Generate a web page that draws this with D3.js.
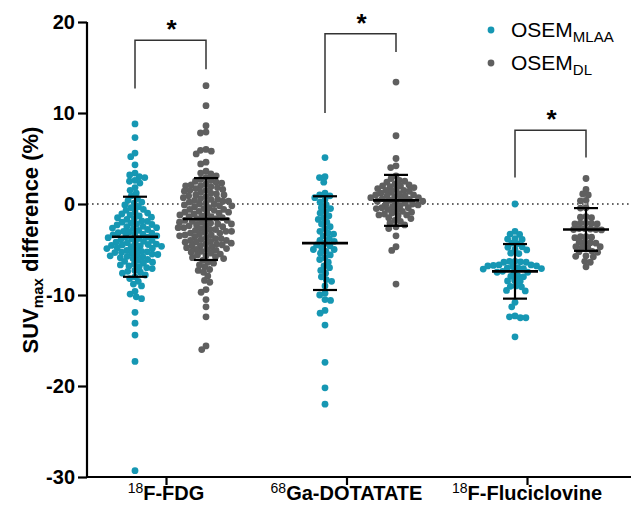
<!DOCTYPE html>
<html>
<head>
<meta charset="utf-8">
<script src="https://cdn.jsdelivr.net/npm/d3@7"></script>
<style>
  body { margin: 0; background: #fff; }
  text { font-family: "Liberation Sans", Arial, sans-serif; }
</style>
</head>
<body>
<svg id="chart" width="631" height="509"></svg>
<script>
// tracers / groups
const categories = ["F-FDG", "Ga-DOTATATE", "F-Fluciclovine"];
const isotopes = ["18", "68", "18"];
const seriesNames = ["MLAA", "DL"];
const colors = ["#1697b3", "#5f5f5f"];
const yTicks = [-30, -20, -10, 0, 10, 20];

// SUVmax difference (%) per lesion
const fdgMLAA = [8.8, 7.3, 5.6, 5.2, 4.3, 3.4, 3.2, 3.0, 2.9, 2.6, 2.5, 2.3, 1.8, 1.5, 1.2, 0.9,
  0.6, 0.4, 0.2, 0.1, -0.1, -0.3, -0.4, -0.6, -0.7, -0.9, -1.0,
  -1.1, -1.2, -1.3, -1.45, -1.5, -1.6, -1.7, -1.85, -1.9, -2.0,
  -2.1, -2.2, -2.25, -2.3, -2.45, -2.5, -2.6, -2.65, -2.7, -2.8, -2.9, -3.0,
  -3.1, -3.15, -3.2, -3.3, -3.35, -3.4, -3.5, -3.6, -3.65, -3.7, -3.8, -3.85, -3.9, -4.0,
  -4.1, -4.2, -4.25, -4.3, -4.4, -4.45, -4.5, -4.55, -4.6, -4.65, -4.7, -4.8, -4.85, -4.9, -5.0,
  -5.1, -5.2, -5.25, -5.3, -5.35, -5.4, -5.5, -5.55, -5.6, -5.7, -5.75, -5.8, -5.9, -6.0,
  -6.1, -6.2, -6.3, -6.4, -6.5, -6.6, -6.7, -6.8, -6.9, -7.0,
  -7.1, -7.3, -7.4, -7.5, -7.6, -7.8, -8.0,
  -8.2, -8.5, -8.8, -9.0, -9.6, -9.9, -10.2, -10.4,
  -11.9, -13.1, -14.4, -17.3, -29.3];

const fdgDL = [13.0, 10.8, 8.6, 7.9, 7.8, 6.0, 5.9, 5.8, 5.5, 4.6, 4.4, 3.6, 3.4, 3.3, 3.1,
  2.9, 2.7, 2.6, 2.5, 2.4, 2.3, 2.2, 2.1, 2.0, 2.0, 1.9, 1.8, 1.7, 1.6, 1.5, 1.5, 1.4, 1.3, 1.2, 1.1, 1.0, 1.0,
  0.9, 0.8, 0.7, 0.6, 0.5, 0.5, 0.4, 0.3, 0.3, 0.2, 0.1, 0.0, 0.0,
  -0.1, -0.2, -0.2, -0.3, -0.4, -0.5, -0.6, -0.6, -0.7, -0.8, -0.9, -0.9, -1.0, -1.0,
  -1.1, -1.2, -1.3, -1.4, -1.4, -1.5, -1.6, -1.6, -1.7, -1.8, -1.8, -1.9, -2.0, -2.0,
  -2.1, -2.2, -2.2, -2.3, -2.4, -2.4, -2.5, -2.6, -2.6, -2.7, -2.8, -2.8, -2.9, -3.0, -3.0,
  -3.1, -3.2, -3.2, -3.3, -3.4, -3.4, -3.5, -3.6, -3.7, -3.8, -3.8, -3.9, -4.0, -4.0,
  -4.1, -4.2, -4.2, -4.3, -4.4, -4.4, -4.5, -4.6, -4.6, -4.7, -4.8, -4.9, -5.0, -5.0,
  -5.1, -5.2, -5.3, -5.4, -5.5, -5.6, -5.7, -5.8, -5.9, -6.0,
  -6.2, -6.4, -6.5, -6.7, -6.9, -7.2, -7.3, -7.5, -7.9,
  -8.4, -8.6, -9.4, -9.7, -10.5, -11.3, -12.4, -15.6, -16.0];

const dotaMLAA = [5.1, 3.0, 2.9, 2.4, 1.2, 1.0, 0.9, 0.7, 0.5, 0.2, -0.1, -0.4, -0.5, -0.8, -1.0,
  -1.3, -1.5, -1.7, -2.0, -2.2, -2.5, -2.7, -3.0, -3.2, -3.3, -3.5, -3.8, -4.0, -4.1, -4.3,
  -4.5, -4.6, -4.8, -5.0, -5.0, -5.2, -5.4, -5.6, -5.9, -6.1, -6.4, -6.8, -7.0, -7.3, -7.6,
  -8.0, -8.3, -8.5, -9.0, -9.8, -10.0, -10.5, -10.6, -11.7, -12.0, -13.3, -17.4, -20.2, -22.0];

const dotaDL = [13.4, 7.5, 5.0, 4.2, 4.0, 3.1, 2.8, 2.6, 2.5, 2.4, 2.2, 2.1, 2.0, 2.0, 1.9, 1.8, 1.7,
  1.6, 1.5, 1.5, 1.4, 1.3, 1.2, 1.1, 1.0, 1.0, 0.9, 0.9, 0.8, 0.7, 0.7, 0.6, 0.5, 0.5, 0.4, 0.3, 0.3,
  0.2, 0.1, 0.0, 0.0, -0.1, -0.2, -0.3, -0.4, -0.4, -0.5, -0.6, -0.7, -0.8, -0.9, -1.0, -1.1,
  -1.2, -1.2, -1.3, -1.5, -1.6, -1.8, -1.9, -2.1, -2.3, -2.5, -2.7, -3.5, -4.7, -5.1, -8.8];

const fluciMLAA = [0.0, -3.0, -3.3, -3.35, -3.8, -3.85, -3.9, -4.3, -4.35, -4.7, -4.75, -5.0, -5.05,
  -5.4, -5.45, -6.3, -6.3, -6.35, -6.4, -6.4, -6.7, -6.7, -6.75, -6.8, -6.8, -6.85,
  -7.0, -7.05, -7.1, -7.1, -7.15, -7.4, -7.45, -7.5, -7.5, -7.9, -7.95, -8.0,
  -8.4, -8.45, -8.5, -9.0, -9.05, -9.1, -9.5, -9.55, -10.8, -11.3, -12.3, -12.4, -12.5, -12.5, -14.6];

const fluciDL = [2.8, 1.6, 1.1, 1.0, 0.4, 0.35, -0.4, -0.45, -1.4, -1.45, -1.5,
  -2.1, -2.1, -2.15, -2.2, -2.2, -2.7, -2.7, -2.75, -2.8, -2.8, -2.85,
  -3.6, -3.6, -3.65, -3.7, -4.2, -4.2, -4.25, -4.3, -4.7, -4.7, -4.75, -4.8,
  -5.2, -5.25, -5.3, -5.7, -5.75, -5.8, -6.3, -6.4, -6.9];

const seriesData = [[fdgMLAA, fdgDL], [dotaMLAA, dotaDL], [fluciMLAA, fluciDL]];

// mean and SD as plotted
const means = [[-3.6, -1.65], [-4.3, 0.4], [-7.4, -2.8]];
const sds = [[4.4, 4.5], [5.15, 2.8], [3.0, 2.35]];

// significance brackets: [top value, left leg end, right leg end]
const brackets = [[18.0, 12.7, 14.8], [18.7, 10.0, 16.7], [8.1, 2.9, 5.1]];

const svg = d3.select("#chart");
const width = +svg.attr("width");

const y = d3.scaleLinear().domain([-30, 20]).range([477, 22]);
const xTick = d3.scalePoint().domain(categories).range([166, 527]);
const xGroup = d3.scalePoint().domain(categories).range([135, 515]);
const xSeries = d3.scalePoint().domain(seriesNames).range([0, 71]);
const axisX = 87;

// zero reference line
svg.append("line")
    .attr("x1", axisX).attr("x2", width)
    .attr("y1", y(0)).attr("y2", y(0))
    .attr("stroke", "#333").attr("stroke-width", 1.6)
    .attr("stroke-dasharray", "1.6,3.4");

// beeswarm dodge, top to bottom
function swarm(values, D) {
    const pts = values.map(v => ({ v, py: y(v), dx: 0 })).sort((a, b) => a.py - b.py);
    const placed = [];
    pts.forEach(p => {
        const near = placed.filter(q => Math.abs(q.py - p.py) < D);
        const cands = [0];
        near.forEach(q => {
            const w = Math.sqrt(D * D - (q.py - p.py) ** 2);
            cands.push(q.dx - w, q.dx + w);
        });
        cands.sort((a, b) => Math.abs(a) - Math.abs(b) || a - b);
        for (const c of cands) {
            if (near.every(q => (q.dx - c) ** 2 + (q.py - p.py) ** 2 >= D * D - 1e-6)) { p.dx = c; break; }
        }
        placed.push(p);
    });
    return pts;
}

categories.forEach((cat, gi) => {
    seriesNames.forEach((s, si) => {
        const cx = xGroup(cat) + xSeries(s);
        const pts = swarm(seriesData[gi][si], 5.6);
        svg.append("g").selectAll("circle")
            .data(pts)
            .join("circle")
            .attr("cx", d => cx + d.dx)
            .attr("cy", d => d.py)
            .attr("r", 3.4)
            .attr("fill", colors[si]);

        // mean +- SD
        const m = means[gi][si], sd = sds[gi][si];
        const g = svg.append("g").attr("stroke", "#000").attr("stroke-width", 2.2);
        g.append("line").attr("x1", cx).attr("x2", cx).attr("y1", y(m + sd)).attr("y2", y(m - sd));
        g.append("line").attr("x1", cx - 23).attr("x2", cx + 23).attr("y1", y(m)).attr("y2", y(m)).attr("stroke-width", 2.6);
        [m + sd, m - sd].forEach(v => {
            g.append("line").attr("x1", cx - 12).attr("x2", cx + 12).attr("y1", y(v)).attr("y2", y(v));
        });
    });

    // bracket + star
    const [top, l, r] = brackets[gi];
    const x1 = xGroup(cat) + xSeries(seriesNames[0]);
    const x2 = xGroup(cat) + xSeries(seriesNames[1]);
    svg.append("path")
        .attr("d", `M${x1},${y(l)}V${y(top)}H${x2}V${y(r)}`)
        .attr("fill", "none").attr("stroke", "#333").attr("stroke-width", 1.5);
    svg.append("text")
        .attr("x", (x1 + x2) / 2 + 1).attr("y", y(top) - 2)
        .attr("text-anchor", "middle")
        .attr("font-size", 26).attr("font-weight", "bold")
        .text("*");
});

// y axis
const yAxis = svg.append("g")
    .attr("transform", `translate(${axisX},0)`)
    .call(d3.axisLeft(y).tickValues(yTicks).tickSize(9).tickPadding(3).tickFormat(d => String(d)));
yAxis.select(".domain").attr("stroke-width", 2.2).attr("d", `M0,${y(20)}V${y(-30)}`);
yAxis.selectAll(".tick line").attr("stroke-width", 2.2);
yAxis.selectAll(".tick text")
    .attr("font-size", 20).attr("font-weight", "bold")
    .attr("font-family", "Liberation Sans, Arial, sans-serif").attr("fill", "#000");

// x axis
const xAxis = svg.append("g")
    .attr("transform", `translate(0,${y(-30)})`)
    .call(d3.axisBottom(xTick).tickSize(8).tickFormat(""));
xAxis.select(".domain").attr("stroke-width", 2.2).attr("d", `M${axisX - 1},0H${width}`);
xAxis.selectAll(".tick line").attr("stroke-width", 2.2);

categories.forEach((cat, i) => {
    const t = svg.append("text")
        .attr("x", xTick(cat)).attr("y", 500)
        .attr("text-anchor", "middle")
        .attr("font-size", 20).attr("font-weight", "bold");
    t.append("tspan").attr("font-size", 14).attr("font-weight", "normal").attr("dy", -7).text(isotopes[i]);
    t.append("tspan").attr("dy", 7).text(cat);
});

// y label
const yl = svg.append("text")
    .attr("transform", "translate(38,240) rotate(-90)")
    .attr("text-anchor", "middle")
    .attr("font-size", 22).attr("font-weight", "bold");
yl.append("tspan").text("SUV");
yl.append("tspan").attr("font-size", 15).attr("dy", 5).text("max");
yl.append("tspan").attr("dy", -5).text(" difference (%)");

// legend
const legend = svg.append("g");
seriesNames.forEach((s, i) => {
    const ly = 30 + i * 33;
    legend.append("circle").attr("cx", 491).attr("cy", ly).attr("r", 3.4).attr("fill", colors[i]);
    const t = legend.append("text").attr("x", 511).attr("y", ly + 7).attr("font-size", 21);
    t.append("tspan").text("OSEM");
    t.append("tspan").attr("font-size", 15).attr("dy", 5).text(s);
});
</script>
</body>
</html>
